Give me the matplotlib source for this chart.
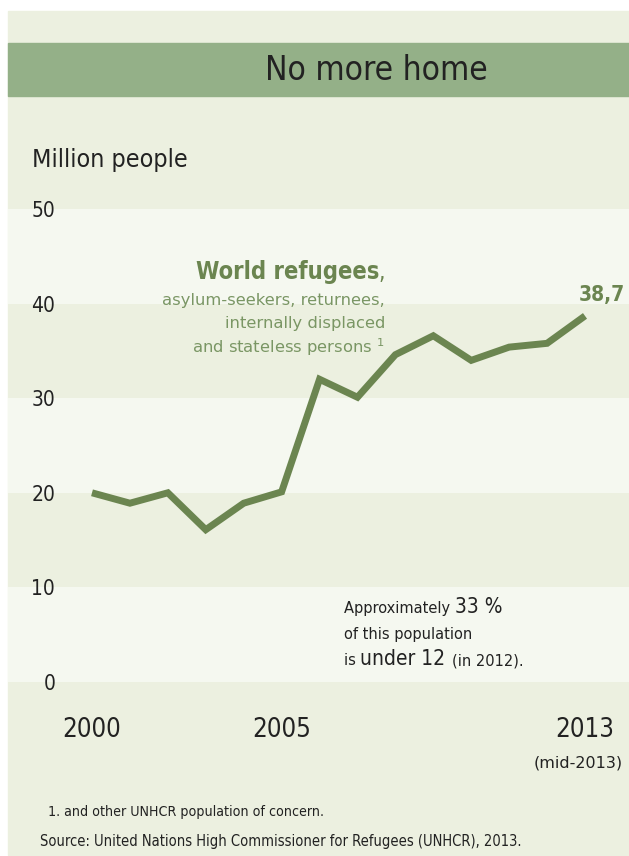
import matplotlib
matplotlib.use("Agg")
import matplotlib.pyplot as plt
from matplotlib.patches import Rectangle

# data: world refugees, asylum-seekers, returnees, IDPs and stateless (million people)
years = [2000, 2001, 2002, 2003, 2004, 2005, 2006, 2007, 2008, 2009, 2010, 2011, 2012, 2013]
people = [20.0, 18.9, 20.0, 16.1, 18.9, 20.1, 32.0, 30.1, 34.6, 36.6, 34.0, 35.4, 35.8, 38.7]
x_ticks = [2000, 2005, 2013]
y_ticks = [0, 10, 20, 30, 40, 50]

W, H = 629, 856
PANEL = "#ecf0e0"
LIGHT = "#f5f8f0"
BAR = "#94b088"
LINE = "#6b8550"
SUB = "#7a9664"
DARK = "#222222"
NARROW = ["Liberation Sans Narrow", "DejaVu Sans"]


def fx(px):
    return px / W


def fy(py):
    return 1 - py / H


fig = plt.figure(figsize=(W / 100, H / 100), dpi=100)
fig.patch.set_facecolor("white")
fig.patches.append(Rectangle((fx(8), fy(855)), 1, fy(11) - fy(855),
                             transform=fig.transFigure, color=PANEL, zorder=-2))
fig.patches.append(Rectangle((fx(8), fy(96)), 1, fy(43) - fy(96),
                             transform=fig.transFigure, color=BAR, zorder=-1))
fig.text(fx(488), fy(71), "No more home", ha="right", va="center",
         fontsize=24, color=DARK, family=NARROW, fontstretch="condensed")
fig.text(fx(32), fy(160), "Million people", ha="left", va="center",
         fontsize=18, color=DARK, family=NARROW, fontstretch="condensed")

# plot area: 2000 -> x=92px, 2013 -> x=585px
s = (585 - 92) / 13
ax = fig.add_axes([fx(8), fy(682), fx(629) - fx(8), fy(209) - fy(682)])
ax.set_xlim(2000 - (92 - 8) / s, 2013 + (629 - 585) / s)
ax.set_ylim(0, 50)
ax.set_facecolor(PANEL)
for lo in (0, 20, 40):
    ax.axhspan(lo, lo + 10, color=LIGHT, zorder=0, lw=0)
for sp in ax.spines.values():
    sp.set_visible(False)

ax.plot(years, people, color=LINE, lw=5.0, solid_joinstyle="miter",
        solid_capstyle="butt", zorder=3)

ax.set_yticks(y_ticks)
ax.set_yticklabels([str(v) for v in y_ticks], family=NARROW,
                   fontstretch="condensed", fontsize=15, color=DARK)
ax.tick_params(axis="y", length=0, pad=-34)
ax.set_xticks(x_ticks)
ax.set_xticklabels([str(v) for v in x_ticks], family=NARROW,
                   fontstretch="condensed", fontsize=18.5, color=DARK)
ax.tick_params(axis="x", length=0, pad=25)

ax.annotate("(mid-2013)", (2013, 0), xytext=(-5, -58),
            textcoords="offset points", ha="center", va="center",
            fontsize=11.5, color=DARK, annotation_clip=False)

ax.annotate("38,7", (years[-1], people[-1]), xytext=(12, 15),
            textcoords="offset points", ha="center", va="center",
            fontsize=15, fontweight="bold", color=LINE, fontstretch="condensed")

# series label
fig.text(fx(385), fy(272), ",", ha="right", va="center", fontsize=16.5,
         color=LINE, fontstretch="condensed")
fig.text(fx(379), fy(272), "World refugees", ha="right", va="center",
         fontsize=17, fontweight="bold", color=LINE, fontstretch="condensed")
sub_lines = ["asylum-seekers, returnees,", "internally displaced",
             "and stateless persons $^{1}$"]
for i, line in enumerate(sub_lines):
    fig.text(fx(385), fy(300 + 23.5 * i), line, ha="right", va="center",
             fontsize=11.8, color=SUB)

# mixed-size note
renderer = fig.canvas.get_renderer()


def run(parts, x, base):
    for txt, size in parts:
        kw = {"fontstretch": "condensed"} if size > 12 else {}
        t = fig.text(fx(x), fy(base), txt, ha="left", va="baseline",
                     fontsize=size, color=DARK, **kw)
        x += t.get_window_extent(renderer).width


run([("Approximately ", 10.5), ("33 %", 15)], 344, 613)
run([("of this population", 10.5)], 344, 639)
run([("is ", 10.5), ("under 12 ", 15), ("(in 2012).", 10.5)], 344, 665)

fig.text(fx(48), fy(816), "1. and other UNHCR population of concern.",
         ha="left", va="baseline", fontsize=10.2, color=DARK, family=NARROW,
         fontstretch="condensed")
fig.text(fx(40), fy(846),
         "Source: United Nations High Commissioner for Refugees (UNHCR), 2013.",
         ha="left", va="baseline", fontsize=10.5, color=DARK, family=NARROW,
         fontstretch="condensed")

fig.savefig("out.png", dpi=100, facecolor="white")
